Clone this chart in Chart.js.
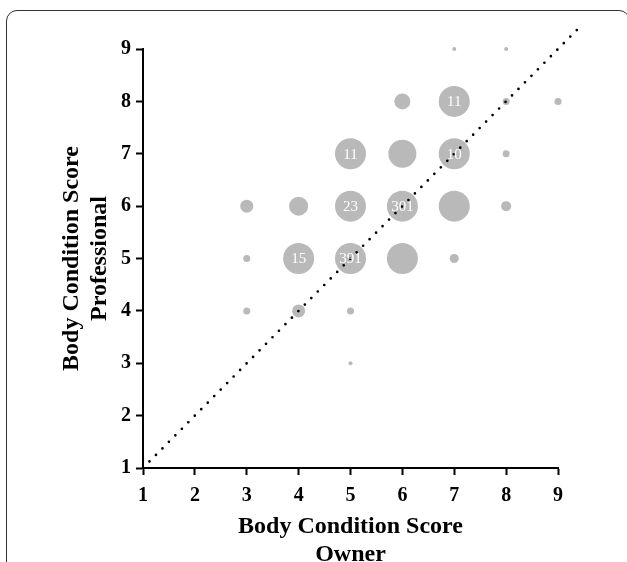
<!DOCTYPE html>
<html>
<head>
<meta charset="utf-8">
<script src="https://cdn.jsdelivr.net/npm/chart.js@4"></script>
<style>
    html, body { margin: 0; padding: 0; background: #fff; overflow: hidden; }
    #wrap { position: relative; width: 627px; height: 562px; overflow: hidden; }
    #frame {
        position: absolute; left: 6px; top: 10px; width: 624px; height: 600px;
        border: 1.5px solid #333; border-radius: 11px; box-sizing: border-box;
    }
    #c { position: absolute; left: 0; top: 0; }
</style>
</head>
<body>
<div id="wrap">
    <div id="frame"></div>
    <canvas id="c" width="627" height="580"></canvas>
</div>
<script>
// owner score (x), professional score (y), bubble radius, printed count
const ownerScore = [7, 8, 6, 7, 8, 9, 5, 6, 7, 8, 3, 4, 5, 6, 7, 8, 3, 4, 5, 6, 7, 3, 4, 5, 5];
const professionalScore = [9, 9, 8, 8, 8, 8, 7, 7, 7, 7, 6, 6, 6, 6, 6, 6, 5, 5, 5, 5, 5, 4, 4, 4, 3];
const bubbleRadius = [2, 2, 8, 15.5, 3.5, 3.5, 15.5, 14, 15.5, 3.5, 6.5, 9.5, 15.5, 15.5, 15.5, 5, 3.5, 15.5, 15.5, 15.5, 4.5, 3.5, 6.5, 3.5, 2];
const countLabels = ['', '', '', '11', '', '', '11', '', '10', '', '', '', '23', '301', '', '', '', '15', '391', '', '', '', '', '', ''];
const scoreTicks = [1, 2, 3, 4, 5, 6, 7, 8, 9];
const identityLine = [1, 9.45];

const SERIF = '"Liberation Serif", "DejaVu Serif", serif';

const bubbles = ownerScore.map((x, i) => ({ x, y: professionalScore[i], r: bubbleRadius[i] }));

const countLabelPlugin = {
    id: 'countLabels',
    afterDatasetsDraw(chart) {
        const meta = chart.getDatasetMeta(0);
        const ctx = chart.ctx;
        ctx.save();
        ctx.fillStyle = '#ffffff';
        ctx.font = '15px ' + SERIF;
        ctx.textAlign = 'center';
        ctx.textBaseline = 'middle';
        meta.data.forEach((pt, i) => {
            if (!countLabels[i]) return;
            ctx.fillText(countLabels[i], pt.x, pt.y + 1);
        });
        ctx.restore();
    },
};

function axisOptions(titleText, titlePadding, tickPadding) {
    return {
        type: 'linear',
        min: 1,
        max: 9,
        afterBuildTicks: (scale) => {
            scale.ticks = scoreTicks.map((v) => ({ value: v }));
        },
        grid: {
            display: true,
            drawOnChartArea: false,
            drawTicks: true,
            tickLength: 7,
            tickWidth: 2,
            tickColor: '#000',
        },
        border: { display: true, color: '#000', width: 2 },
        ticks: {
            color: '#000',
            padding: tickPadding,
            font: { family: SERIF, size: 20, weight: 'bold' },
        },
        title: {
            display: true,
            text: titleText,
            color: '#000',
            padding: titlePadding,
            font: { family: SERIF, size: 24, weight: 'bold', lineHeight: 1.1667 },
        },
    };
}

const xAxis = axisOptions(['Body Condition Score', 'Owner'], { top: 0, bottom: 11 }, 9);
xAxis.afterFit = (scale) => { scale.height = 112; };

const yAxis = axisOptions(['Body Condition Score', 'Professional'], { top: 58, bottom: 0 }, 5);
yAxis.afterFit = (scale) => { scale.width = 143; };

new Chart(document.getElementById('c'), {
    type: 'bubble',
    data: {
        datasets: [
            {
                type: 'bubble',
                data: bubbles,
                backgroundColor: '#b9b9b9',
                borderWidth: 0,
                hoverRadius: 0,
                clip: false,
                order: 2,
            },
            {
                type: 'line',
                data: identityLine.map((v) => ({ x: v, y: v })),
                borderColor: '#000',
                borderWidth: 2.7,
                borderDash: [0, 9.2],
                borderCapStyle: 'round',
                pointRadius: 0,
                fill: false,
                clip: false,
                order: 1,
            },
        ],
    },
    options: {
        responsive: false,
        animation: false,
        devicePixelRatio: 1,
        layout: { padding: { left: 0, top: 49, right: 69, bottom: 0 } },
        plugins: {
            legend: { display: false },
            tooltip: { enabled: false },
        },
        scales: { x: xAxis, y: yAxis },
    },
    plugins: [countLabelPlugin],
});
</script>
</body>
</html>
